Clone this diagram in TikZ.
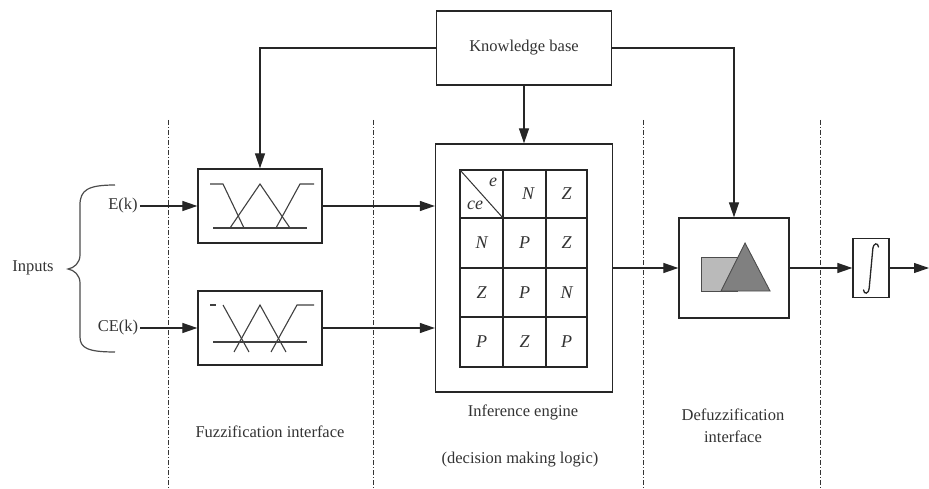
\documentclass[tikz,border=0pt]{standalone}
\usepackage{fontspec}
\setmainfont{Liberation Serif}
\usetikzlibrary{arrows.meta}
\begin{document}
\begin{tikzpicture}[x=1pt,y=-1pt,
  box/.style={draw=black!85, line width=1.3pt, inner sep=0pt, fill=white},
  arr/.style={draw=black!85, line width=1.2pt, -{Triangle[length=15pt,width=10pt]}},
  txt/.style={font=\fontsize{16.5}{22}\selectfont, text=black!80, inner sep=2pt},
  ddot/.style={draw=black!80, line width=0.9pt, dash pattern=on 5pt off 2pt on 1pt off 2pt},
  mf/.style={draw=black!75, line width=1.1pt},
  grid/.style={draw=black!85, line width=1.2pt},
  cell/.style={font=\fontsize{18}{20}\selectfont\itshape, text=black!80, inner sep=0pt}]
\useasboundingbox (0,0) rectangle (929,489);

% section separators
\foreach \x in {168,373,643,820} \draw[ddot] (\x,120) -- (\x,489);

% blocks
\node[box, minimum width=175pt, minimum height=74pt, txt] (kb) at (524,48) {Knowledge base};
\node[box, minimum width=177pt, minimum height=248pt] (inf) at (524,268) {};
\node[box, minimum width=124pt, minimum height=74pt] (f1) at (260,206) {};
\node[box, minimum width=124pt, minimum height=74pt] (f2) at (260,328) {};
\node[box, minimum width=110pt, minimum height=100pt] (df) at (734,268) {};
\node[box, minimum width=36pt, minimum height=59pt] (ig) at (871,268) {};
\coordinate (out) at (929,268);
% integral sign
\draw[draw=black!85, line width=1.3pt, line cap=round] (878.5,247) .. controls (878,242.5) and (873.5,242.5) .. (872.8,249)
  -- (869.2,288) .. controls (868.5,294.5) and (864,294.5) .. (863.5,290);

% inputs
\node[txt] (ek) at (123,206) {E(k)};
\node[txt] (cek) at (118,328) {CE(k)};
\node[txt] (inp) at (33,268) {Inputs};
\draw[draw=black!70, line width=1.2pt] (115,185) .. controls (88,185) and (80,190) .. (80,205) -- (80,255)
  .. controls (80,263) and (74,268) .. (68,269) .. controls (74,270) and (80,275) .. (80,283)
  -- (80,337) .. controls (80,348) and (88,352) .. (115,352);

% connectors
\draw[arr] (ek.east) -- (ek.east -| f1.west);
\draw[arr] (cek.east) -- (cek.east -| f2.west);
\draw[arr] (kb.west) -| (f1.north);
\draw[arr] (kb.east) -| (df.north);
\draw[arr] (kb.south) -- (inf.north);
\draw[arr] (f1.east) -- (f1.east -| inf.west);
\draw[arr] (f2.east) -- (f2.east -| inf.west);
\draw[arr] (inf.east) -- (df.west);
\draw[arr] (df.east) -- (ig.west);
\draw[arr] (ig.east) -- (out);

% membership functions, box 1
\draw[mf] (210,184) -- (223,184) -- (244,228);
\draw[mf] (230,228) -- (260,184) -- (290,228);
\draw[mf] (276,228) -- (300,184) -- (314,184);
\draw[mf] (213,228) -- (307,228);
% membership functions, box 2
\draw[mf] (210,305) -- (216,305);
\draw[mf] (223,305) -- (249,352);
\draw[mf] (234,352) -- (260,305) -- (286,352);
\draw[mf] (271,352) -- (297,305) -- (314,305);
\draw[mf] (213,342) -- (307,342);

% rule table
\draw[grid] (460,170) rectangle (587,367);
\draw[grid] (503,170) -- (503,367) (546,170) -- (546,367);
\draw[grid] (460,218) -- (587,218) (460,268) -- (587,268) (460,317) -- (587,317);
\draw[draw=black!80, line width=1pt] (460,170) -- (503,218);
\node[cell] (he) at (493,182) {e};
\node[cell] (hce) at (475,205) {ce};
\node[cell] (c12) at (528,194) {N};
\node[cell] (c13) at (566.5,194) {Z};
\node[cell] (c21) at (481.5,243) {N};
\node[cell] (c22) at (524.5,243) {P};
\node[cell] (c23) at (566.5,243) {Z};
\node[cell] (c31) at (481.5,292.5) {Z};
\node[cell] (c32) at (524.5,292.5) {P};
\node[cell] (c33) at (566.5,292.5) {N};
\node[cell] (c41) at (481.5,342) {P};
\node[cell] (c42) at (524.5,342) {Z};
\node[cell] (c43) at (566.5,342) {P};

% defuzzification graphic
\filldraw[fill=black!27, draw=black!70, line width=0.9pt] (701,257) rectangle (737,291);
\filldraw[fill=black!50, draw=black!70, line width=0.9pt] (721,291) -- (745,243) -- (770,291) -- cycle;

% labels
\node[txt] (fz) at (270,432) {Fuzzification interface};
\node[txt] (ie) at (523,412) {Inference engine};
\node[txt] (dm) at (520,460) {(decision making logic)};
\node[txt, align=center] (dz) at (733,426) {Defuzzification\\interface};
\end{tikzpicture}
\end{document}
